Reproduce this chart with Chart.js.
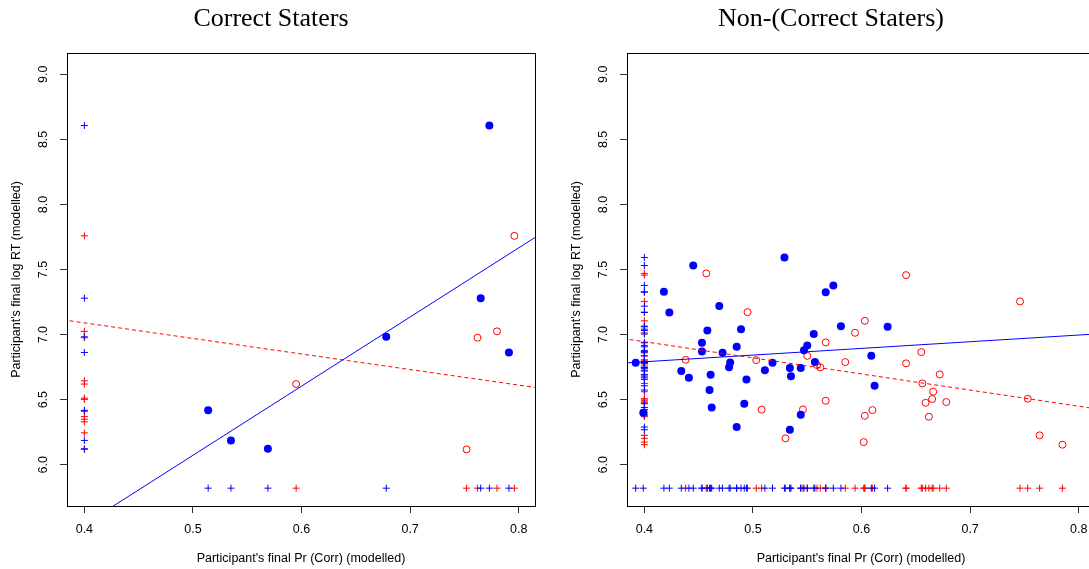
<!DOCTYPE html>
<html>
<head>
<meta charset="utf-8">
<script src="https://cdn.jsdelivr.net/npm/chart.js@4/dist/chart.umd.min.js"></script>
<style>
  html, body { margin: 0; padding: 0; background: #fff; overflow: hidden; }
  #wrap { position: relative; width: 1089px; height: 569px; overflow: hidden; }
  .panel { position: absolute; top: 0; width: 560px; height: 569px; }
</style>
</head>
<body>
<div id="wrap">
  <div class="panel" style="left:0"><canvas id="left_panel" width="560" height="569"></canvas></div>
  <div class="panel" style="left:560px"><canvas id="right_panel" width="560" height="569"></canvas></div>
</div>
<script>
// axes
const xTicks = [0.4, 0.5, 0.6, 0.7, 0.8];
const xTickLabels = ['0.4', '0.5', '0.6', '0.7', '0.8'];
const yTicks = [6.0, 6.5, 7.0, 7.5, 8.0, 8.5, 9.0];
const yTickLabels = ['6.0', '6.5', '7.0', '7.5', '8.0', '8.5', '9.0'];
const xRange = [0.384, 0.815];
const yRange = [5.683, 9.164];

// where the rugs sit
const rugX = 0.4;
const rugY = 5.82;

// Correct Staters
const leftBlueX = [0.773, 0.765, 0.678, 0.791, 0.514, 0.535, 0.569];
const leftBlueY = [8.607, 7.280, 6.983, 6.863, 6.418, 6.187, 6.123];
const leftRedX = [0.796, 0.780, 0.762, 0.595, 0.752];
const leftRedY = [7.759, 7.025, 6.976, 6.620, 6.118];
const leftRedRugExtraY = [6.645, 6.512, 6.502, 6.410, 6.370, 6.350, 6.330, 6.245];
const fitX = [0.38, 0.82];
const leftBlueFitY = [5.435, 7.773];
const leftRedFitY = [7.114, 6.588];

// Non-(Correct Staters)
const rightBlueX = [0.392, 0.399, 0.418, 0.423, 0.434, 0.441, 0.445, 0.453, 0.453, 0.458,
                    0.460, 0.461, 0.462, 0.469, 0.472, 0.478, 0.479, 0.485, 0.485, 0.489,
                    0.492, 0.494, 0.511, 0.518, 0.529, 0.534, 0.534, 0.535, 0.544, 0.544,
                    0.547, 0.550, 0.556, 0.557, 0.567, 0.574, 0.581, 0.609, 0.612, 0.624];
const rightBlueY = [6.783, 6.400, 7.329, 7.170, 6.720, 6.668, 7.531, 6.937, 6.871, 7.032,
                    6.574, 6.691, 6.440, 7.219, 6.860, 6.750, 6.786, 6.906, 6.290, 7.042,
                    6.469, 6.656, 6.727, 6.783, 7.593, 6.269, 6.743, 6.681, 6.384, 6.743,
                    6.879, 6.917, 7.004, 6.789, 7.326, 7.378, 7.065, 6.837, 6.607, 7.060];
const rightRedX = [0.438, 0.457, 0.495, 0.503, 0.508, 0.530, 0.546, 0.550, 0.559, 0.562,
                   0.567, 0.567, 0.585, 0.594, 0.603, 0.602, 0.603, 0.610, 0.641, 0.641,
                   0.655, 0.656, 0.659, 0.662, 0.665, 0.666, 0.672, 0.678, 0.746, 0.753,
                   0.764, 0.785];
const rightRedY = [6.806, 7.470, 7.173, 6.804, 6.423, 6.203, 6.425, 6.837, 6.766, 6.748,
                   6.940, 6.492, 6.789, 7.014, 7.106, 6.174, 6.376, 6.420, 6.779, 7.457,
                   6.866, 6.625, 6.476, 6.369, 6.505, 6.561, 6.694, 6.482, 7.255, 6.507,
                   6.226, 6.154];
const rightBlueFitY = [6.781, 7.007];
const rightRedFitY = [6.970, 6.425];

const BLUE = '#0000ff';
const RED = '#ff0000';
const sans = 'Liberation Sans, Arial, sans-serif';

function pts(xs, ys) { return xs.map((x, i) => ({ x: x, y: ys[i] })); }
function rugLeft(ys) { return ys.map(y => ({ x: rugX, y: y })); }
function rugBottom(xs) { return xs.map(x => ({ x: x, y: rugY })); }

// R style box round the plot region
const plotBox = {
    id: 'plotBox',
    afterDraw(chart) {
        const a = chart.chartArea;
        const ctx = chart.ctx;
        ctx.save();
        ctx.strokeStyle = '#000';
        ctx.lineWidth = 1;
        ctx.strokeRect(Math.round(a.left) + 0.5, Math.round(a.top) + 0.5,
            Math.round(a.right - a.left), Math.round(a.bottom - a.top));
        ctx.restore();
    }
};

function cross(color, data) {
    return {
        data: data, pointStyle: 'cross', pointRadius: 3.5,
        pointBorderColor: color, pointBorderWidth: 1, pointBackgroundColor: color
    };
}

function makePanel(id, title, blueX, blueY, redX, redY, redExtraY, blueFit, redFit) {
    new Chart(document.getElementById(id), {
        type: 'scatter',
        data: {
            datasets: [
                { data: pts(fitX, blueFit), showLine: true, borderColor: BLUE, borderWidth: 1, pointRadius: 0 },
                { data: pts(fitX, redFit), showLine: true, borderColor: RED, borderWidth: 1, borderDash: [4, 3], pointRadius: 0 },
                { data: pts(blueX, blueY), pointRadius: 4, pointBackgroundColor: BLUE, pointBorderColor: BLUE, pointBorderWidth: 0 },
                { data: pts(redX, redY), pointRadius: 3.5, pointBackgroundColor: 'rgba(0,0,0,0)', pointBorderColor: RED, pointBorderWidth: 1 },
                cross(BLUE, rugLeft(blueY)),
                cross(BLUE, rugBottom(blueX)),
                cross(RED, rugLeft(redY.concat(redExtraY))),
                cross(RED, rugBottom(redX))
            ]
        },
        options: {
            responsive: false,
            animation: false,
            events: [],
            layout: { padding: { left: 7, right: 25, top: 0, bottom: 0 } },
            plugins: {
                legend: { display: false },
                tooltip: { enabled: false },
                title: {
                    display: true, text: title, color: '#000',
                    font: { family: 'Liberation Serif, Times New Roman, serif', size: 26, weight: 'normal' },
                    padding: { top: 4, bottom: 17.8 }
                }
            },
            scales: {
                x: {
                    type: 'linear', min: xRange[0], max: xRange[1],
                    afterBuildTicks: s => { s.ticks = xTicks.map(v => ({ value: v })); },
                    afterFit: s => { s.height = 63; },
                    ticks: {
                        callback: (v, i) => xTickLabels[i], color: '#000',
                        font: { family: sans, size: 12.5 }, padding: 9.5, maxRotation: 0, autoSkip: false
                    },
                    grid: { drawOnChartArea: false, drawTicks: true, tickLength: 7, color: '#333', lineWidth: 1 },
                    border: { display: false },
                    title: {
                        display: true, text: "Participant's final Pr (Corr) (modelled)", color: '#000',
                        font: { family: sans, size: 12.5 }, padding: { top: 0, bottom: 2.5 }
                    }
                },
                y: {
                    type: 'linear', min: yRange[0], max: yRange[1],
                    afterBuildTicks: s => { s.ticks = yTicks.map(v => ({ value: v })); },
                    afterFit: s => { s.width = 60; },
                    ticks: {
                        callback: (v, i) => yTickLabels[i], color: '#000',
                        font: { family: sans, size: 12.5 }, padding: 7.5,
                        minRotation: 90, maxRotation: 90, crossAlign: 'center', autoSkip: false
                    },
                    grid: { drawOnChartArea: false, drawTicks: true, tickLength: 7, color: '#333', lineWidth: 1 },
                    border: { display: false },
                    title: {
                        display: true, text: "Participant's final log RT (modelled)", color: '#000',
                        font: { family: sans, size: 12.5 }, padding: { top: 2.5, bottom: 0 }
                    }
                }
            }
        },
        plugins: [plotBox]
    });
}

makePanel('left_panel', 'Correct Staters', leftBlueX, leftBlueY, leftRedX, leftRedY,
    leftRedRugExtraY, leftBlueFitY, leftRedFitY);
makePanel('right_panel', 'Non-(Correct Staters)', rightBlueX, rightBlueY, rightRedX, rightRedY,
    [], rightBlueFitY, rightRedFitY);
</script>
</body>
</html>
